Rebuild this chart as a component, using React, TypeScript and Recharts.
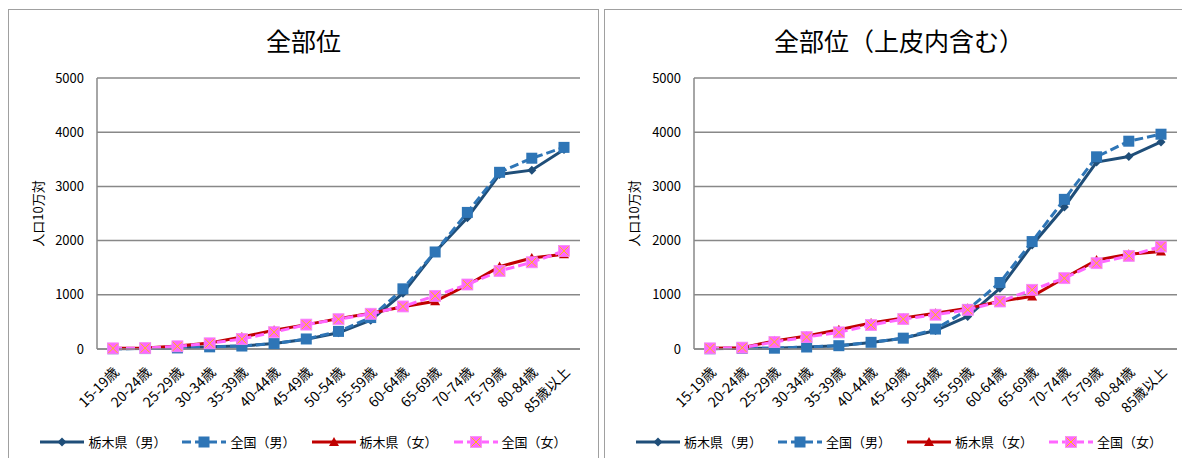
import React from 'react';
import { LineChart, Line, XAxis, YAxis, CartesianGrid, Legend } from 'recharts';

const AGES = [
  '15-19歳', '20-24歳', '25-29歳', '30-34歳', '35-39歳', '40-44歳', '45-49歳', '50-54歳',
  '55-59歳', '60-64歳', '65-69歳', '70-74歳', '75-79歳', '80-84歳', '85歳以上',
];
const Y_TICKS = [0, 1000, 2000, 3000, 4000, 5000];

// 全部位
const ALL_TOCHIGI_M = [5, 8, 20, 40, 55, 100, 180, 300, 530, 1030, 1790, 2420, 3220, 3300, 3680];
const ALL_JAPAN_M = [5, 8, 20, 40, 55, 100, 185, 325, 580, 1110, 1790, 2520, 3260, 3520, 3720];
const ALL_TOCHIGI_F = [12, 20, 55, 110, 220, 345, 450, 560, 660, 780, 880, 1180, 1520, 1680, 1750];
const ALL_JAPAN_F = [12, 18, 50, 105, 185, 310, 450, 550, 650, 785, 980, 1190, 1440, 1600, 1810];

// 全部位（上皮内含む）
const CIS_TOCHIGI_M = [5, 12, 15, 35, 60, 120, 200, 340, 600, 1120, 1920, 2620, 3450, 3550, 3820];
const CIS_JAPAN_M = [5, 12, 15, 37, 61, 123, 200, 368, 724, 1227, 1982, 2761, 3546, 3834, 3963];
const CIS_TOCHIGI_F = [12, 25, 150, 240, 355, 480, 570, 660, 750, 880, 970, 1310, 1640, 1750, 1800];
const CIS_JAPAN_F = [12, 25, 130, 220, 307, 442, 552, 632, 724, 877, 1092, 1307, 1583, 1718, 1890];

const FONT = '"Noto Sans CJK JP", "Noto Sans", sans-serif';

type MarkerKind = 'diamond' | 'square' | 'triangle' | 'xsquare';

const SERIES: { key: string; name: string; color: string; dash?: string; marker: MarkerKind }[] = [
  { key: 'tm', name: '栃木県（男）', color: '#1F4E79', marker: 'diamond' },
  { key: 'nm', name: '全国（男）', color: '#2E75B6', dash: '9 4', marker: 'square' },
  { key: 'tf', name: '栃木県（女）', color: '#C00000', marker: 'triangle' },
  { key: 'nf', name: '全国（女）', color: '#FF66FF', dash: '9 4', marker: 'xsquare' },
];

function buildRows(tm: number[], nm: number[], tf: number[], nf: number[]) {
  return AGES.map((age, i) => ({ age, tm: tm[i], nm: nm[i], tf: tf[i], nf: nf[i] }));
}

function Marker({ cx, cy, kind, color }: { cx: number; cy: number; kind: MarkerKind; color: string }) {
  if (kind === 'diamond') {
    const r = 4.5;
    return <polygon points={`${cx},${cy - r} ${cx + r},${cy} ${cx},${cy + r} ${cx - r},${cy}`} fill={color} />;
  }
  if (kind === 'triangle') {
    const r = 5;
    return <polygon points={`${cx},${cy - r} ${cx + r},${cy + r * 0.8} ${cx - r},${cy + r * 0.8}`} fill={color} />;
  }
  const s = 5.5;
  if (kind === 'square') {
    return <rect x={cx - s} y={cy - s} width={s * 2} height={s * 2} fill={color} />;
  }
  return (
    <g>
      <rect x={cx - s} y={cy - s} width={s * 2} height={s * 2} fill={color} stroke="#F58CF5" strokeWidth={0.8} />
      <path d={`M${cx - s + 1},${cy - s + 1} L${cx + s - 1},${cy + s - 1} M${cx + s - 1},${cy - s + 1} L${cx - s + 1},${cy + s - 1}`} stroke="#FFC000" strokeWidth={1} />
    </g>
  );
}

function AgeTick(props: any) {
  const { x, y, payload } = props;
  const tx = x + 7;
  const ty = y + 16;
  return (
    <text x={tx} y={ty} textAnchor="end" fontSize={14} fontFamily={FONT} fill="#000" transform={`rotate(-45 ${tx} ${ty})`}>
      {payload.value}
    </text>
  );
}

function LegendBox() {
  return (
    <div style={{ display: 'flex', justifyContent: 'center', alignItems: 'center', fontFamily: FONT, fontSize: 13, color: '#000' }}>
      {SERIES.map((s, i) => (
        <div key={s.key} style={{ display: 'flex', alignItems: 'center', marginLeft: i === 0 ? 0 : 16 }}>
          <svg width={44} height={16}>
            <line x1={0} y1={8} x2={44} y2={8} stroke={s.color} strokeWidth={3} strokeDasharray={s.dash} />
            <Marker cx={22} cy={8} kind={s.marker} color={s.color} />
          </svg>
          <span style={{ marginLeft: 4, whiteSpace: 'nowrap' }}>{s.name}</span>
        </div>
      ))}
    </div>
  );
}

function Panel({ title, rows, left, yWidth, rightMargin }: { title: string; rows: any[]; left: number; yWidth: number; rightMargin: number }) {
  const width = yWidth + 483 + rightMargin;
  return (
    <div style={{ position: 'absolute', left, top: 9, width: width + 2, height: 460, border: '1px solid #a0a0a0', boxSizing: 'border-box', background: '#fff' }}>
      <div style={{ position: 'absolute', left: 0, top: 15, width: width, textAlign: 'center', fontFamily: FONT, fontSize: 25, lineHeight: '30px', color: '#000' }}>
        {title}
      </div>
      <LineChart width={width} height={448} data={rows} margin={{ top: 68, right: rightMargin, left: 0, bottom: 0 }}>
        <CartesianGrid vertical={false} stroke="#888" strokeWidth={1.5} />
        <XAxis
          dataKey="age"
          interval={0}
          height={109}
          padding={{ left: 16, right: 16 }}
          tick={<AgeTick />}
          tickLine={false}
          axisLine={{ stroke: '#888', strokeWidth: 1.5 }}
        />
        <YAxis
          width={yWidth}
          domain={[0, 5000]}
          ticks={Y_TICKS}
          tickLine={false}
          tickSize={0}
          tickMargin={13}
          axisLine={{ stroke: '#888', strokeWidth: 1.5 }}
          tick={{ fontSize: 13, fontFamily: FONT, fill: '#000' }}
          label={{ value: '人口10万対', angle: -90, position: 'insideLeft', offset: 29, style: { fontSize: 13, fontFamily: FONT, fill: '#000', textAnchor: 'middle' } }}
        />
        <Legend
          layout="horizontal"
          verticalAlign="middle"
          align="center"
          wrapperStyle={{ top: 422, left: 0, width: width }}
          content={() => <LegendBox />}
        />
        {SERIES.map((s) => (
          <Line
            key={s.key}
            dataKey={s.key}
            name={s.name}
            stroke={s.color}
            strokeWidth={3}
            strokeDasharray={s.dash}
            isAnimationActive={false}
            dot={(p: any) => <Marker key={`${s.key}-${p.index}`} cx={p.cx} cy={p.cy} kind={s.marker} color={s.color} />}
            activeDot={false}
          />
        ))}
      </LineChart>
    </div>
  );
}

export default function App() {
  const allRows = buildRows(ALL_TOCHIGI_M, ALL_JAPAN_M, ALL_TOCHIGI_F, ALL_JAPAN_F);
  const cisRows = buildRows(CIS_TOCHIGI_M, CIS_JAPAN_M, CIS_TOCHIGI_F, CIS_JAPAN_F);
  return (
    <div style={{ position: 'absolute', left: 0, top: 0, width: 1182, height: 458, overflow: 'hidden', background: '#fff' }}>
      <Panel title="全部位" rows={allRows} left={8} yWidth={88} rightMargin={18} />
      <Panel title="全部位（上皮内含む）" rows={cisRows} left={604} yWidth={89} rightMargin={16} />
    </div>
  );
}
